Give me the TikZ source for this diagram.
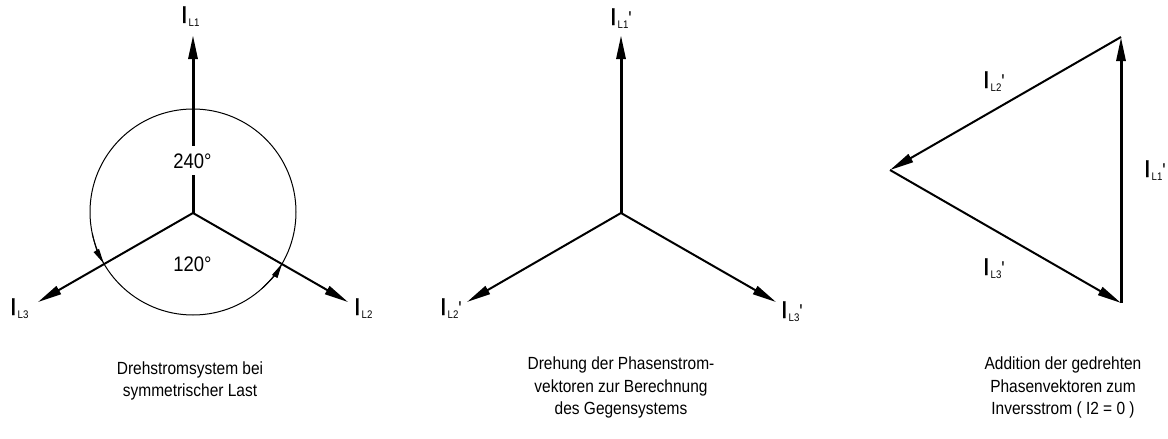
\documentclass[tikz,border=0pt]{standalone}
\usepackage{fontspec}
\setmainfont{Liberation Sans}[FakeStretch=0.88]
\newfontfamily\Ifont{Liberation Sans}[FakeBold=1.2]
\usetikzlibrary{arrows.meta}
\newcommand{\Ilab}[2]{{\Ifont\fontsize{24}{24}\selectfont I}\hspace{1pt}\raisebox{-3pt}{\fontsize{11}{11}\selectfont L#1}{\fontsize{20}{20}\selectfont #2}}
\tikzset{
  vec/.style={-{Triangle[length=24pt,width=9pt]}, line width=2pt},
  vvec/.style={vec, line width=3pt},
  lab/.style={anchor=base west, inner sep=0pt},
  capt/.style={anchor=base, inner sep=0pt, font=\fontsize{17.6}{22}\selectfont},
  ang/.style={fill=white, inner xsep=2pt, inner ysep=7pt, anchor=base, font=\fontsize{21}{22}\selectfont},
  circarrow/.style={-{Triangle[length=15pt,width=6pt]}, line width=1pt}
}
\begin{document}
\begin{tikzpicture}[x=1pt,y=1pt]
\useasboundingbox (0,0) rectangle (1168,-439);
% diagram 1
\coordinate (O1) at (193,-213);
\coordinate (A1) at (193,-35);
\coordinate (B1) at (38,-302);
\coordinate (C1) at (348,-302);
\draw[line width=1pt] (193,-212) circle[radius=103];
\draw[circarrow] (193,-212) ++(192:103) arc[start angle=192,end angle=210,radius=103];
\draw[circarrow] (193,-212) ++(312:103) arc[start angle=312,end angle=330,radius=103];
\draw[vvec] (O1) -- (A1);
\draw[vec] (O1) -- (B1);
\draw[vec] (O1) -- (C1);
\node[ang] (a240) at (192.5,-168) {240°};
\node[ang, fill=none] (a120) at (192.5,-271) {120°};
\node[lab] (l11) at (180.8,-23) {\Ilab{1}{}};
\node[lab] (l13) at (9.8,-315) {\Ilab{3}{}};
\node[lab] (l12) at (353.8,-315) {\Ilab{2}{}};
% diagram 2
\coordinate (O2) at (621,-213);
\coordinate (A2) at (621,-35);
\coordinate (B2) at (467,-302);
\coordinate (C2) at (776,-302);
\draw[vvec] (O2) -- (A2);
\draw[vec] (O2) -- (B2);
\draw[vec] (O2) -- (C2);
\node[lab] (l21) at (609.8,-25) {\Ilab{1}{\textquotesingle}};
\node[lab] (l22) at (439.8,-315) {\Ilab{2}{\textquotesingle}};
\node[lab] (l23) at (780.8,-318) {\Ilab{3}{\textquotesingle}};
% diagram 3
\coordinate (T3) at (1121,-37);
\coordinate (L3) at (890,-170);
\coordinate (B3) at (1121,-303);
\draw[vvec] (B3) -- (T3);
\draw[vec] (T3) -- (L3);
\draw[vec] (L3) -- (B3);
\node[lab] (l32) at (982.8,-88) {\Ilab{2}{\textquotesingle}};
\node[lab] (l31) at (1143.8,-177) {\Ilab{1}{\textquotesingle}};
\node[lab] (l33) at (982.8,-275) {\Ilab{3}{\textquotesingle}};
% captions
\node[capt] (c1a) at (190,-374) {Drehstromsystem bei};
\node[capt] (c1b) at (190,-396) {symmetrischer Last};
\node[capt] (c2a) at (621,-369) {Drehung der Phasenstrom-};
\node[capt] (c2b) at (621,-392) {vektoren zur Berechnung};
\node[capt] (c2c) at (621,-414) {des Gegensystems};
\node[capt] (c3a) at (1063,-369) {Addition der gedrehten};
\node[capt] (c3b) at (1063,-392) {Phasenvektoren zum};
\node[capt] (c3c) at (1063,-414) {Inversstrom ( I2 = 0 )};
\end{tikzpicture}
\end{document}
